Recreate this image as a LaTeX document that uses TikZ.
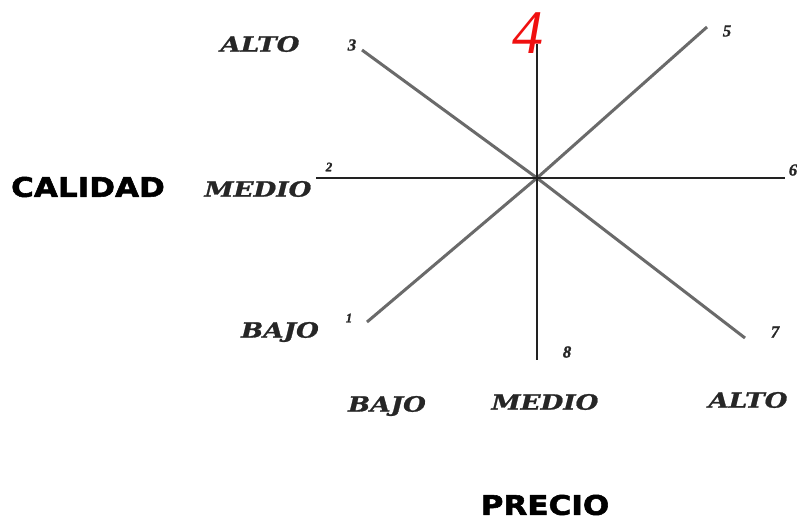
\documentclass[tikz,border=0pt]{standalone}
\usepackage{fontspec}
\newfontfamily\labfont[FakeStretch=1.25,FakeBold=1.2]{DejaVu Serif}
\newfontfamily\numfont[FakeBold=1]{Liberation Serif}
\newfontfamily\fourfont{Liberation Serif}
\newfontfamily\headfont[FakeStretch=1.15,FakeBold=2]{DejaVu Sans}
\definecolor{axisc}{HTML}{222222}
\definecolor{diagc}{HTML}{6A6A6A}
\definecolor{fourc}{HTML}{F01010}
\begin{document}
\begin{tikzpicture}[x=1pt,y=-1pt,
  lab/.style={inner sep=0pt,font=\labfont\bfseries\itshape\fontsize{21}{23}\selectfont,text=black!85},
  num/.style={inner sep=0pt,font=\numfont\bfseries\itshape\fontsize{17}{19}\selectfont,text=black!85},
  head/.style={inner sep=0pt,font=\headfont\bfseries\fontsize{27}{30}\selectfont,text=black},
  axisline/.style={draw=axisc,line width=2.3pt},
  diagline/.style={draw=diagc,line width=3pt}]
\useasboundingbox[fill=white] (0,0) rectangle (797,520);
% coordinates
\coordinate (O) at (537,178);
\coordinate (p1) at (367,322);
\coordinate (p2) at (316,178);
\coordinate (p3) at (362,50);
\coordinate (p4) at (537,44);
\coordinate (p5) at (707,27);
\coordinate (p6) at (785,178);
\coordinate (p7) at (745,338);
\coordinate (p8) at (537,360);
% lines
\draw[diagline] (p3) -- (O);
\draw[diagline] (O) -- (p7);
\draw[diagline] (p1) -- (O);
\draw[diagline] (O) -- (p5);
\draw[axisline] (p2) -- (p6);
\draw[axisline] (p4) -- (p8);
% numbers
\node[inner sep=0pt,text=fourc,font=\fourfont\itshape\fontsize{62}{66}\selectfont] (n4) at (528,33) {4};
\node[num] (n3) at (352,45) {3};
\node[num] (n5) at (727,31) {5};
\node[num,font=\numfont\bfseries\itshape\fontsize{13}{15}\selectfont] (n2) at (329,167) {2};
\node[num] (n6) at (793,170) {6};
\node[num,font=\numfont\bfseries\itshape\fontsize{13}{15}\selectfont] (n1) at (349,318) {1};
\node[num] (n7) at (775,332) {7};
\node[num] (n8) at (567,352) {8};
% level labels
\node[lab] (altoq) at (260,44) {ALTO};
\node[lab] (medioq) at (258,189) {MEDIO};
\node[lab] (bajoq) at (280,332) {BAJO};
\node[lab] (bajop) at (387,406) {BAJO};
\node[lab] (mediop) at (545,402) {MEDIO};
\node[lab] (altop) at (748,400) {ALTO};
% axis titles
\node[head] (cal) at (88,187) {CALIDAD};
\node[head] (pre) at (545,505) {PRECIO};
\end{tikzpicture}
\end{document}
